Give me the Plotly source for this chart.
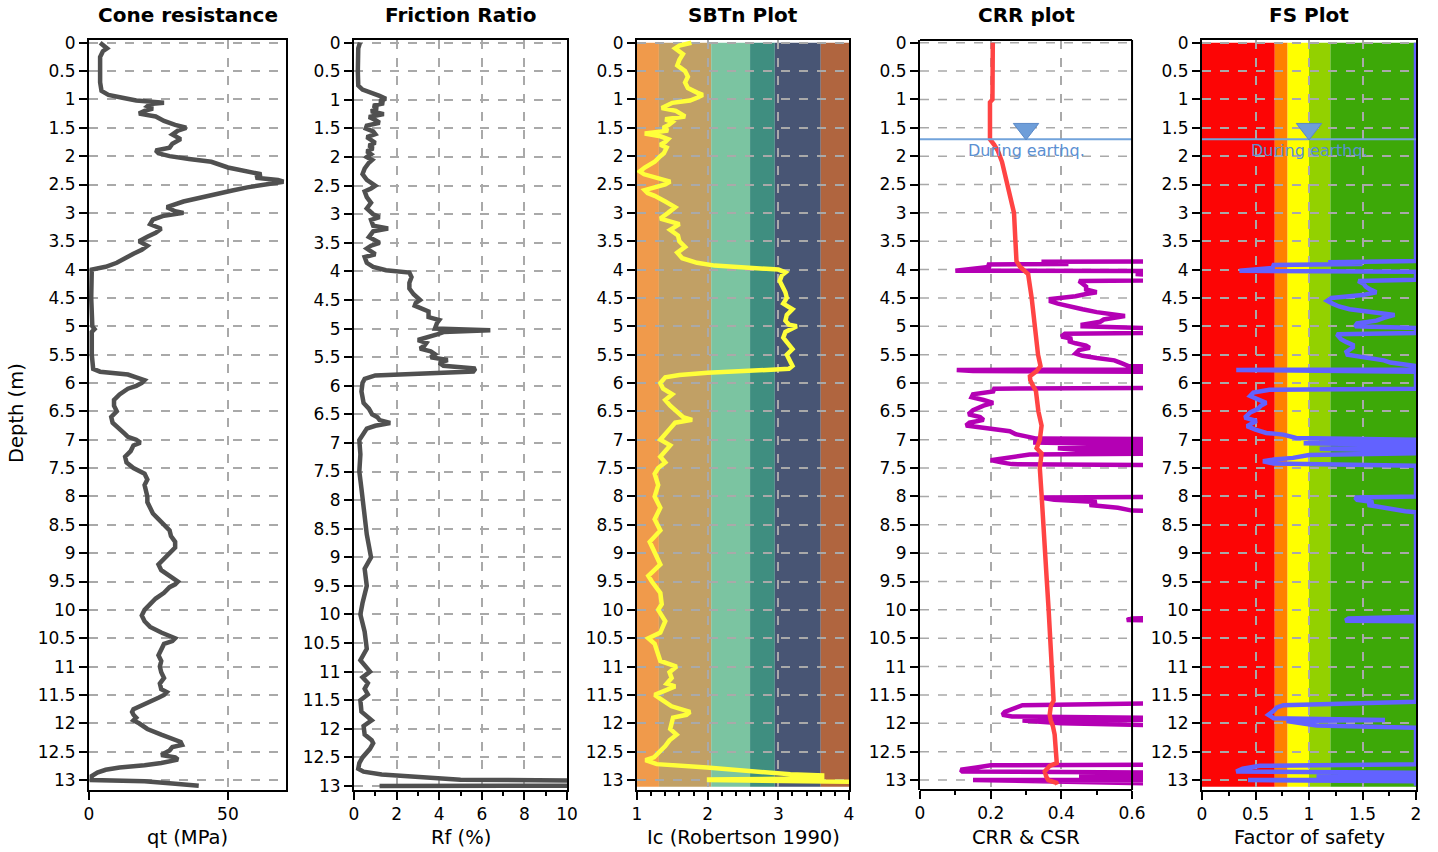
import plotly.graph_objects as go

# ---------------- DATA ----------------
qt_depth = [0, 0.05, 0.1, 0.15, 0.25, 0.5, 0.7, 0.85, 0.92, 0.97, 1.02, 1.06, 1.08, 1.12, 1.16, 1.2, 1.25, 1.3, 1.38, 1.45, 1.5,
            1.55, 1.62, 1.7, 1.78, 1.85, 1.9, 1.95, 2.0, 2.05, 2.1, 2.2, 2.28, 2.32, 2.38, 2.42, 2.45, 2.5, 2.55, 2.6, 2.7,
            2.8, 2.9, 2.97, 3.0, 3.05, 3.12, 3.2, 3.28, 3.35, 3.42, 3.5, 3.58, 3.65, 3.72, 3.8, 3.88, 3.95, 4.0, 4.5, 5.0,
            5.05, 5.1, 5.5, 5.75, 5.8, 5.85, 5.9, 5.95, 6.0, 6.05, 6.1, 6.2, 6.3, 6.4, 6.5, 6.6, 6.7, 6.8, 6.9, 6.95, 7.0,
            7.05, 7.1, 7.2, 7.3, 7.4, 7.5, 7.6, 7.7, 7.8, 7.9, 8.0, 8.1, 8.2, 8.3, 8.4, 8.5, 8.6, 8.7, 8.8, 8.9, 9.0, 9.1,
            9.2, 9.3, 9.4, 9.5, 9.55, 9.6, 9.7, 9.8, 9.9, 10.0, 10.1, 10.2, 10.3, 10.4, 10.5, 10.55, 10.6, 10.7, 10.8, 10.9,
            11.0, 11.1, 11.2, 11.3, 11.4, 11.45, 11.5, 11.55, 11.62, 11.7, 11.75, 11.8, 11.85, 11.9, 11.95, 12.0, 12.1,
            12.2, 12.28, 12.33, 12.38, 12.42, 12.48, 12.52, 12.56, 12.6, 12.64, 12.7, 12.74, 12.78, 12.82, 12.87, 12.93,
            13.0, 13.01, 13.02, 13.06, 13.1]
qt_mpa = [4, 5, 6.5, 5, 4, 4, 4, 4.5, 7, 12, 17, 27, 22, 21, 23, 20, 18, 24, 27, 31, 35,
          32, 30, 33, 30, 29, 24, 25, 29, 36, 44, 50, 57, 62, 60, 68, 70, 63, 57, 52, 42,
          34, 28, 31, 34, 27, 23, 22, 26, 24, 21, 18, 21, 19, 16, 13, 10, 6, 1, 0.8, 1.2,
          2, 1, 1, 1.5, 4, 14, 17, 20, 19, 17, 14, 11, 9, 9, 10, 8, 8.5, 11, 13, 14, 17,
          18.5, 16, 15, 13, 13.5, 16, 20, 21, 20, 20.5, 21, 21, 22, 23, 25, 27, 29, 29.5, 31, 31, 29, 27,
          25, 26, 29, 32, 31, 29, 27, 24, 22, 20, 19, 20, 22, 26, 31, 30, 27, 26, 25, 26,
          25.5, 26, 27, 25.5, 26, 28, 27, 25, 22, 18, 16, 15.5, 16, 17, 16, 18, 21,
          26, 31, 33, 33.5, 30, 29, 27, 26, 31, 32, 26, 20, 11, 6, 3, 1,
          1, 10, 20, 30, 39.5]

rf_depth = [0, 0.1, 0.5, 0.75, 0.82, 0.88, 0.93, 0.98, 1.02, 1.06, 1.1, 1.15, 1.2, 1.25, 1.3, 1.35, 1.4, 1.45, 1.5, 1.55,
            1.6, 1.65, 1.7, 1.75, 1.8, 1.85, 1.9, 1.95, 2.0, 2.05, 2.1, 2.2, 2.3, 2.4, 2.5, 2.55, 2.6, 2.7, 2.8, 2.9,
            3.0, 3.05, 3.1, 3.2, 3.25, 3.3, 3.4, 3.5, 3.55, 3.6, 3.7, 3.75, 3.85, 3.92, 3.98, 4.02, 4.1, 4.2, 4.3, 4.4,
            4.5, 4.55, 4.6, 4.7, 4.8, 4.85, 4.9, 5.0, 5.03, 5.06, 5.1, 5.2, 5.25, 5.3, 5.35, 5.4, 5.45, 5.5, 5.55, 5.6,
            5.65, 5.7, 5.75, 5.78, 5.82, 5.88, 5.95, 6.1, 6.3, 6.4, 6.5, 6.55, 6.6, 6.65, 6.7, 6.75, 6.85, 6.95, 7.2,
            7.5, 7.8, 8.0, 8.3, 8.6, 8.8, 9.0, 9.2, 9.5, 9.8, 10.0, 10.3, 10.6, 10.8, 11.0, 11.1, 11.2, 11.3, 11.4,
            11.5, 11.7, 11.85, 11.95, 12.1, 12.2, 12.25, 12.35, 12.5, 12.6, 12.7, 12.75, 12.8, 12.83, 12.87, 12.89,
            12.91, 12.995, 13.0]
rf_pct = [0.28, 0.2, 0.18, 0.2, 0.4, 0.9, 1.2, 1.5, 1.2, 1.4, 0.9, 1.1, 0.8, 1.4, 0.7, 1.0, 1.2, 0.6, 0.55, 0.9,
          1.0, 0.6, 0.8, 1.0, 0.7, 0.9, 0.6, 0.8, 0.6, 0.85, 0.7, 0.5, 0.4, 0.6, 1.0, 0.8, 0.5, 0.6, 0.8, 0.6,
          0.9, 1.2, 0.8, 0.9, 1.6, 0.9, 0.7, 1.2, 0.8, 0.6, 1.0, 0.5, 0.6, 0.9, 1.5, 2.6, 2.7, 2.6, 2.6, 2.8,
          3.1, 2.9, 2.85, 3.5, 3.5, 4.0, 3.9, 3.8, 6.4, 4.2, 3.9, 3.0, 3.4, 3.3, 3.1, 3.6, 3.8, 3.6, 4.4, 4.0,
          4.2, 5.7, 5.6, 3.0, 1.0, 0.5, 0.4, 0.35, 0.45, 0.7, 0.85, 1.1, 1.2, 1.7, 1.0, 0.6, 0.4, 0.25, 0.3,
          0.25, 0.35, 0.4, 0.5, 0.6, 0.7, 0.8, 0.5, 0.6, 0.4, 0.3, 0.5, 0.6, 0.3, 0.75, 0.4, 0.65, 0.5, 0.65,
          0.3, 0.35, 0.83, 0.45, 0.5, 0.83, 0.9, 0.75, 0.4, 0.25, 0.2, 0.45, 1.3, 2.5, 3.6, 5.0,
          12, 12, 1.2]

ic_depth = [0, 0.05, 0.1, 0.2, 0.3, 0.4, 0.5, 0.6, 0.7, 0.8, 0.88, 0.92, 0.97, 1.02, 1.06, 1.1, 1.15, 1.2, 1.25, 1.3,
            1.35, 1.4, 1.45, 1.5, 1.55, 1.6, 1.65, 1.7, 1.75, 1.8, 1.85, 1.9, 1.95, 2.0, 2.1, 2.2, 2.27, 2.32, 2.38,
            2.45, 2.5, 2.55, 2.6, 2.65, 2.7, 2.8, 2.9, 3.0, 3.1, 3.2, 3.3, 3.4, 3.5, 3.6, 3.7, 3.8, 3.88, 3.93, 3.97,
            4.0, 4.05, 4.1, 4.2, 4.3, 4.4, 4.5, 4.6, 4.7, 4.8, 4.9, 4.97, 5.0, 5.05, 5.1, 5.2, 5.3, 5.4, 5.5, 5.6,
            5.7, 5.75, 5.78, 5.82, 5.86, 5.9, 6.0, 6.1, 6.2, 6.3, 6.4, 6.5, 6.6, 6.65, 6.7, 6.8, 6.9, 7.0, 7.1, 7.2,
            7.3, 7.4, 7.5, 7.6, 7.8, 8.0, 8.2, 8.4, 8.6, 8.8, 9.0, 9.2, 9.4, 9.5, 9.7, 9.9, 10.0, 10.2, 10.4, 10.5,
            10.6, 10.8, 10.9, 11.0, 11.1, 11.2, 11.3, 11.35, 11.5, 11.6, 11.7, 11.8, 11.85, 11.9, 12.0, 12.1, 12.2,
            12.3, 12.4, 12.5, 12.6, 12.65, 12.72, 12.78, 12.85, 12.9, 12.92, 12.97, 12.99, 13.0, 13.03]
ic_val = [1.77, 1.6, 1.54, 1.65, 1.6, 1.57, 1.68, 1.72, 1.68, 1.72, 1.85, 1.93, 1.85, 1.75, 1.5, 1.42, 1.35, 1.55, 1.62, 1.68,
          1.4, 1.5, 1.45, 1.37, 1.44, 1.11, 1.33, 1.44, 1.4, 1.33, 1.42, 1.4, 1.38, 1.33, 1.25, 1.11, 1.04, 1.1, 1.25,
          1.47, 1.4, 1.25, 1.11, 1.15, 1.25, 1.4, 1.54, 1.44, 1.33, 1.6, 1.47, 1.58, 1.6, 1.68, 1.57, 1.64, 1.85, 2.1, 2.6,
          3.0, 3.1, 3.05, 3.02, 3.06, 3.1, 3.12, 3.07, 3.2, 3.12, 3.1, 3.15, 3.26, 3.18, 3.1, 3.07, 3.13, 3.2, 3.12, 3.16,
          3.2, 3.15, 2.6, 2.0, 1.6, 1.4, 1.33, 1.37, 1.5, 1.4, 1.47, 1.57, 1.65, 1.78, 1.54, 1.47, 1.4, 1.33, 1.47, 1.4,
          1.33, 1.4, 1.3, 1.25, 1.3, 1.25, 1.33, 1.25, 1.33, 1.18, 1.25, 1.33, 1.16, 1.21, 1.33, 1.35, 1.3, 1.4, 1.33, 1.16,
          1.25, 1.3, 1.33, 1.56, 1.46, 1.49, 1.42, 1.54, 1.25, 1.37, 1.49, 1.75, 1.7, 1.51, 1.49, 1.47, 1.56,
          1.46, 1.4, 1.33, 1.24, 1.12, 1.28, 1.99, 2.6, 3.17, 3.62, 3.62, 2.02, 2.02, 4.0]

csr_depth = [0, 0.5, 1.0, 1.05, 1.7, 1.8, 1.9, 2.1, 2.2, 2.3, 2.5, 2.8, 3.0, 3.5, 3.85, 3.95, 4.0, 4.08, 4.5, 5.0, 5.5,
             5.7, 5.79, 5.88, 5.95, 6.05, 6.14, 6.5, 6.75, 7.0, 7.15, 7.24, 7.5, 7.97, 8.5, 9.0, 9.5, 10.0, 10.5, 11.0,
             11.5, 11.6, 11.7, 11.85, 11.95, 12.05, 12.2, 12.5, 12.7, 12.75, 12.85, 12.95, 13.0, 13.05, 13.08]
csr_val = [0.206, 0.206, 0.205, 0.198, 0.198, 0.21, 0.22, 0.232, 0.236, 0.24, 0.249, 0.26, 0.266, 0.27, 0.273, 0.283, 0.292,
           0.306, 0.316, 0.325, 0.334, 0.341, 0.33, 0.311, 0.312, 0.32, 0.328, 0.335, 0.344, 0.339, 0.33, 0.344, 0.339,
           0.344, 0.35, 0.356, 0.359, 0.364, 0.369, 0.372, 0.38, 0.378, 0.37, 0.367, 0.37, 0.376, 0.381, 0.386, 0.387,
           0.367, 0.353, 0.358, 0.363, 0.386, 0.388]

crr_depth = [3.8, 3.85, 3.86, 3.88, 3.9, 3.91, 3.95, 4.0, 4.02, 4.03, 4.06, 4.08, 4.1, 4.18, 4.2, 4.25, 4.3, 4.35, 4.38,
             4.4, 4.43, 4.47, 4.52, 4.56, 4.6, 4.65, 4.7, 4.75, 4.78, 4.82, 4.85, 4.88, 4.92, 4.97, 5.0, 5.02, 5.1,
             5.13, 5.18, 5.22, 5.26, 5.3, 5.34, 5.38, 5.42, 5.48, 5.52, 5.56, 5.6, 5.65, 5.7, 5.73, 5.76, 5.77, 5.79,
             5.81, 6.08, 6.1, 6.15, 6.2, 6.25, 6.3, 6.35, 6.4, 6.48, 6.55, 6.6, 6.65, 6.7, 6.75, 6.8, 6.85, 6.9, 6.95,
             6.98, 7.0, 7.03, 7.05, 7.08, 7.12, 7.15, 7.18, 7.2, 7.23, 7.26, 7.3, 7.33, 7.36, 7.4, 7.43, 7.46, 8.0,
             8.02, 8.06, 8.1, 8.15, 8.2, 8.25, 8.28, 10.12, 10.15, 10.18, 10.2, 11.62, 11.68, 11.72, 11.76, 11.8,
             11.85, 11.88, 11.92, 11.95, 12.0, 12.05, 12.08, 12.72, 12.74, 12.78, 12.82, 12.85, 12.88, 12.92, 12.94,
             12.96, 12.99, 13.0, 13.02, 13.1]
crr_val = [1.0, 1.0, 0.35, 0.35, 0.42, 0.19, 0.2, 0.11, 0.1, 1.0, 1.0, 0.61, 1.0, 1.0, 0.45, 0.46, 0.47, 0.47, 0.49,
           0.5, 0.47, 0.44, 0.37, 0.37, 0.39, 0.42, 0.46, 0.5, 0.54, 0.58, 0.55, 0.52, 0.51, 0.46, 0.46, 1.0, 1.0,
           0.41, 0.4, 0.43, 0.42, 0.44, 0.47, 0.48, 0.45, 0.44, 0.46, 0.5, 0.55, 0.57, 0.59, 1.0, 1.0, 0.104, 0.15,
           1.0, 1.0, 0.21, 0.207, 0.15, 0.146, 0.18, 0.207, 0.18, 0.15, 0.137, 0.17, 0.18, 0.14, 0.13, 0.19, 0.254, 0.27, 0.31,
           0.33, 1.0, 1.0, 0.32, 1.0, 1.0, 0.39, 0.45, 1.0, 1.0, 0.31, 0.27, 0.23, 0.2, 0.23, 0.26, 1.0, 1.0,
           0.34, 0.38, 0.5, 0.48, 0.56, 0.6, 1.0, 1.0, 0.6, 0.585, 1.0, 1.0, 0.29, 0.27, 0.25, 0.24,
           0.233, 0.26, 1.0, 0.29, 0.4, 0.55, 1.0, 1.0, 0.2, 0.16, 0.115, 0.12, 1.0, 1.0, 0.45,
           1.0, 1.0, 0.15, 1.0, 1.0]

fs_depth = [0, 3.85, 3.87, 3.89, 3.9, 3.92, 3.97, 4.02, 4.04, 4.18, 4.2, 4.25, 4.3, 4.35, 4.4, 4.45, 4.5, 4.55, 4.6,
            4.65, 4.7, 4.77, 4.8, 4.85, 4.9, 4.95, 5.0, 5.03, 5.12, 5.14, 5.2, 5.23, 5.28, 5.33, 5.37, 5.45, 5.5, 5.55,
            5.6, 5.64, 5.7, 5.76, 5.77, 5.8, 6.1, 6.12, 6.17, 6.23, 6.29, 6.35, 6.4, 6.46, 6.52, 6.61, 6.67, 6.72, 6.76,
            6.82, 6.88, 6.91, 6.97, 7.0, 7.04, 7.06, 7.09, 7.13, 7.16, 7.2, 7.24, 7.27, 7.32, 7.35, 7.38, 7.42, 7.46,
            8.0, 8.02, 8.06, 8.1, 8.15, 8.22, 8.26, 8.28, 10.12, 10.15, 10.19, 10.2, 11.62, 11.68, 11.72, 11.78, 11.85,
            11.91, 11.94, 11.96, 12.04, 12.08, 12.72, 12.75, 12.8, 12.85, 12.87, 12.92, 12.94, 12.96, 12.99, 13.0,
            13.02, 13.1]
fs_val = [2, 2, 1.2, 1.2, 1.5, 0.67, 0.66, 0.35, 2, 2, 1.46, 1.51, 1.53, 1.57, 1.63, 1.5, 1.21, 1.17, 1.22,
          1.28, 1.38, 1.73, 1.8, 1.7, 1.63, 1.45, 1.43, 2, 2, 1.26, 1.28, 1.3, 1.35, 1.41, 1.41, 1.35, 1.36, 1.54,
          1.7, 1.76, 2, 2, 0.32, 2, 2, 0.63, 0.48, 0.45, 0.54, 0.6, 0.55, 0.52, 0.45, 0.4, 0.51, 0.45, 0.42,
          0.5, 0.6, 0.76, 0.88, 2, 2, 0.95, 2, 2, 1.1, 2, 2, 1.0, 0.85, 0.67, 0.57, 0.67, 2,
          2, 1.43, 1.45, 1.6, 1.55, 1.75, 1.9, 2, 2, 1.37, 1.34, 2, 2, 0.76, 0.7, 0.67, 0.62,
          0.67, 1.71, 0.79, 1.07, 2, 2, 0.54, 0.38, 0.32, 2, 2, 1.07, 2, 2, 0.43,
          2, 2]

ic_zone_edges = [1.0, 1.31, 2.05, 2.60, 2.95, 3.60, 4.0]
ic_zone_colors = ["#F09A4B", "#C1A065", "#7BC4A1", "#3F8E80", "#485574", "#B0653F"]
fs_zone_edges = [0.0, 0.68, 0.8, 1.0, 1.2, 2.0]
fs_zone_colors = ["#FC0505", "#FF8000", "#FFFF00", "#93D100", "#3DA808"]
zone_depth_end = 13.12
water_depth = 1.7
water_label = "During earthq."

panel_titles = ["Cone resistance", "Friction Ratio", "SBTn Plot", "CRR plot", "FS Plot"]
x_titles = ["qt (MPa)", "Rf (%)", "Ic (Robertson 1990)", "CRR & CSR", "Factor of safety"]
y_title = "Depth (m)"
depth_grid = [k * 0.5 for k in range(27)]

# ---------------- LAYOUT CONSTANTS ----------------
W, H = 1438, 852
TOP, BOT = 40, 790
panels_px = [(89, 286), (354, 567), (637, 849), (920, 1143), (1202, 1416)]
title_centers_px = [187.5, 460.5, 743, 1026, 1309]
x_ranges = [[0, 70.9], [0, 10], [1, 4], [0, 0.631], [0, 2]]
y_ranges = [[13.176, -0.048], [13.07, -0.047], [13.176, -0.048], [13.176, -0.048], [13.176, -0.048]]
x_major = [[0, 50], [0, 2, 4, 6, 8, 10], [1, 2, 3, 4], [0, 0.2, 0.4, 0.6], [0, 0.5, 1, 1.5, 2]]
x_minor = [None, 1, 0.2, 0.1, 0.25]

FONT = "DejaVu Sans"
GRID = "#a9a9a9"
ydom = [1 - BOT / H, 1 - TOP / H]

fig = go.Figure()

def ax_id(i, letter):
    return letter if i == 1 else f"{letter}{i}"

line_w = 4.5
series = [
    (qt_mpa, qt_depth, "#505050", 1),
    (rf_pct, rf_depth, "#505050", 2),
    (ic_val, ic_depth, "#FFFF3A", 3),
    (crr_val, crr_depth, "#B400B4", 4),
    (csr_val, csr_depth, "#FF4444", 4),
    (fs_val, fs_depth, "#6262FF", 5),
]
for xs, ys, col, p in series:
    fig.add_trace(go.Scatter(x=xs, y=ys, mode="lines", line=dict(color=col, width=line_w),
                             xaxis=ax_id(p, "x"), yaxis=ax_id(p, "y"), showlegend=False, hoverinfo="skip"))

# water table lines and markers
wt_color = "#72A3DB"
for p, xr, xm in [(4, [0, 0.6], 0.3), (5, [0, 2], 1.0)]:
    fig.add_trace(go.Scatter(x=xr, y=[water_depth, water_depth], mode="lines",
                             line=dict(color=wt_color, width=2), xaxis=f"x{p}", yaxis=f"y{p}",
                             showlegend=False, hoverinfo="skip"))
    fig.add_trace(go.Scatter(x=[xm], y=[water_depth - 0.18], mode="markers",
                             marker=dict(symbol="triangle-down", size=22, color="#6E9ED9",
                                         line=dict(color="#5A89C7", width=1)),
                             xaxis=f"x{p}", yaxis=f"y{p}", showlegend=False, hoverinfo="skip"))
    fig.add_annotation(x=xm, y=water_depth + 0.2, xref=f"x{p}", yref=f"y{p}", text=water_label,
                       showarrow=False, font=dict(family=FONT, size=16, color="#5B90D2"),
                       xanchor="center", yanchor="middle")

shapes = []
for k in range(len(ic_zone_colors)):
    shapes.append(dict(type="rect", xref="x3", yref="y3", x0=ic_zone_edges[k], x1=ic_zone_edges[k + 1],
                       y0=0, y1=zone_depth_end, fillcolor=ic_zone_colors[k], line=dict(width=0), layer="below"))
for k in range(len(fs_zone_colors)):
    shapes.append(dict(type="rect", xref="x5", yref="y5", x0=fs_zone_edges[k], x1=fs_zone_edges[k + 1],
                       y0=0, y1=zone_depth_end, fillcolor=fs_zone_colors[k], line=dict(width=0), layer="below"))
# panel 4: depth grid stops at 0.6 while the curves overhang a little
for d in depth_grid:
    shapes.append(dict(type="line", xref="x4", yref="y4", x0=0, x1=0.6, y0=d, y1=d,
                       line=dict(color=GRID, width=1.5, dash="dash"), layer="below"))
for (x0, x1, y0, y1) in [(0, 0.6, 1, 1), (0, 0.6, 0, 0), (0.6, 0.6, 0, 1)]:
    shapes.append(dict(type="line", xref="x4", yref="y4 domain", x0=x0, x1=x1, y0=y0, y1=y1,
                       line=dict(color="black", width=2), layer="above"))

layout = dict(template="none", width=W, height=H,
              margin=dict(l=0, r=0, t=0, b=0, pad=0, autoexpand=False), paper_bgcolor="white",
              plot_bgcolor="white", showlegend=False, font=dict(family=FONT, color="black"),
              shapes=shapes)

for i in range(1, 6):
    x0px, x1px = panels_px[i - 1]
    xa = dict(domain=[x0px / W, x1px / W], anchor=ax_id(i, "y"), range=x_ranges[i - 1], automargin=False,
              tickmode="array", tickvals=x_major[i - 1], ticks="outside", ticklen=8, tickwidth=2,
              tickcolor="black", showline=True, linewidth=2, linecolor="black", mirror=True,
              showgrid=True, gridcolor=GRID, griddash="dash", gridwidth=1.5, zeroline=False,
              tickfont=dict(family=FONT, size=17, color="black"), fixedrange=True)
    if x_minor[i - 1]:
        xa["minor"] = dict(dtick=x_minor[i - 1], tick0=x_ranges[i - 1][0], ticks="outside", ticklen=4,
                           tickwidth=2, tickcolor="black", showgrid=False)
    ya = dict(domain=ydom, anchor=ax_id(i, "x"), range=y_ranges[i - 1], automargin=False,
              tickmode="linear", tick0=0,
              dtick=0.5, ticks="outside", ticklen=8, tickwidth=2, tickcolor="black", showline=True,
              linewidth=2, linecolor="black", mirror=True, showgrid=True, gridcolor=GRID,
              griddash="dash", gridwidth=1.5, zeroline=False,
              tickfont=dict(family=FONT, size=17, color="black"), fixedrange=True)
    if i == 4:
        xa["showline"] = False
        xa["mirror"] = False
        ya["mirror"] = False
        ya["showgrid"] = False
    layout["xaxis" if i == 1 else f"xaxis{i}"] = xa
    layout["yaxis" if i == 1 else f"yaxis{i}"] = ya

fig.update_layout(**layout)

for i in range(5):
    cx = title_centers_px[i] / W
    fig.add_annotation(x=cx, y=1 - 15 / H, xref="paper", yref="paper", text=f"<b>{panel_titles[i]}</b>",
                       showarrow=False, font=dict(family=FONT, size=20, color="black"),
                       xanchor="center", yanchor="middle")
    fig.add_annotation(x=cx, y=1 - 837 / H, xref="paper", yref="paper", text=x_titles[i],
                       showarrow=False, font=dict(family=FONT, size=19.5, color="black"),
                       xanchor="center", yanchor="middle")
fig.add_annotation(x=16 / W, y=1 - 413 / H, xref="paper", yref="paper", text=y_title, textangle=-90,
                   showarrow=False, font=dict(family=FONT, size=19.5, color="black"),
                   xanchor="center", yanchor="middle")

pin_page = ("document.documentElement.style.margin='0';document.body.style.margin='0';"
            "document.body.style.overflow='hidden';"
            "var gd=document.getElementById('{plot_id}');"
            "gd.style.position='fixed';gd.style.left='0px';gd.style.top='0px';")
fig.write_html("out.html", config={"displayModeBar": False}, post_script=pin_page)
